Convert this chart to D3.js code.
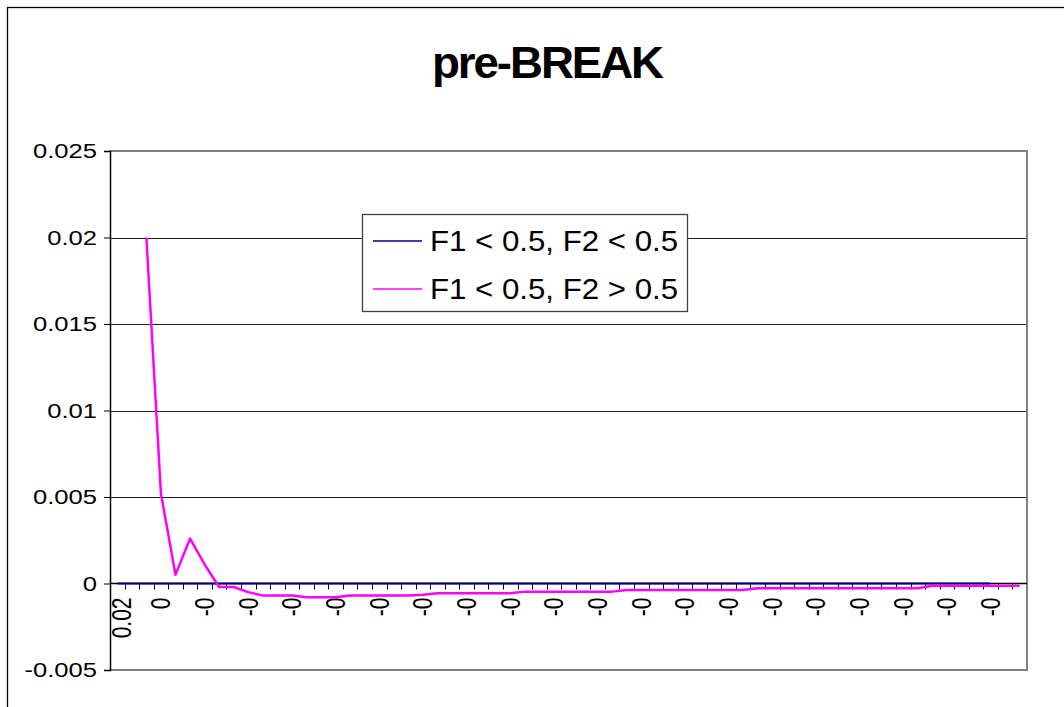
<!DOCTYPE html>
<html>
<head>
<meta charset="utf-8">
<script src="https://cdn.jsdelivr.net/npm/d3@7/dist/d3.min.js"></script>
<style>
  html, body { margin: 0; padding: 0; background: #fff; }
  svg { display: block; }
  text { font-family: "Liberation Sans", Arial, sans-serif; fill: #000; }
</style>
</head>
<body>
<svg id="chart" width="1064" height="707"></svg>
<script>
const title = "pre-BREAK";
const categories = [
  "0.02","0.01","0.01","0","0","0","-0","-0","-0","-0",
  "-0","-0","-0","-0","-0","-0","-0","-0","-0","-0",
  "-0","-0","-0","-0","-0","-0","-0","-0","-0","-0",
  "-0","-0","-0","-0","-0","-0","-0","-0","-0","-0",
  "-0","-0","-0","-0","-0","-0","-0","-0","-0","-0",
  "-0","-0","-0","-0","-0","-0","-0","-0","-0","-0",
  "-0","-0","-0"
];
const seriesNames = ["F1 < 0.5, F2 < 0.5", "F1 < 0.5, F2 > 0.5"];
const seriesBlue = [
  0,0,0,0,0,0,0,0,0,0,
  0,0,0,0,0,0,0,0,0,0,
  0,0,0,0,0,0,0,0,0,0,
  0,0,0,0,0,0,0,0,0,0,
  0,0,0,0,0,0,0,0,0,0,
  0,0,0,0,0,0,0,0,0,0,
  0,null,null
];
const seriesMagenta = [
  null, null, 0.02, 0.0052, 0.0005, 0.0026, 0.0011, -0.0002, -0.0002, -0.0005,
  -0.0007, -0.0007, -0.0007, -0.0008, -0.0008, -0.0008, -0.0007, -0.0007, -0.0007, -0.0007,
  -0.0007, -0.00065, -0.00057, -0.00057, -0.00057, -0.00057, -0.00057, -0.00057, -0.00047, -0.00047,
  -0.00047, -0.00047, -0.00047, -0.00047, -0.00047, -0.00038, -0.00038, -0.00038, -0.00038, -0.00038,
  -0.00038, -0.00038, -0.00038, -0.00038, -0.00028, -0.00028, -0.00028, -0.00028, -0.00028, -0.00028,
  -0.00028, -0.00028, -0.00028, -0.00028, -0.00028, -0.00028, -0.00013, -0.00013, -0.00013, -0.00013,
  -0.00013, -0.00013, -0.00013
];
const yTicks = [-0.005, 0, 0.005, 0.01, 0.015, 0.02, 0.025];
const yTickLabels = ["-0.005", "0", "0.005", "0.01", "0.015", "0.02", "0.025"];
const labelEvery = 3;
const colors = ["#000080", "#FF00FF"];

const svg = d3.select("#chart");
const plot = { left: 110, right: 1027, top: 151, bottom: 670 };
const sx = 1.28; // horizontal text stretch

const x = d3.scaleBand().domain(d3.range(categories.length)).range([plot.left, plot.right]).padding(0);
const xc = i => x(i) + x.bandwidth() / 2;
const y = d3.scaleLinear().domain([-0.005, 0.025]).range([plot.bottom, plot.top]);

// outer chart border
svg.append("rect").attr("x", 7.5).attr("y", 7.5).attr("width", 1200).attr("height", 900)
  .attr("fill", "none").attr("stroke", "#000").attr("stroke-width", 1.3);

// gridlines
svg.append("g").selectAll("line").data(yTicks.filter(v => v !== 0 && v !== -0.005 && v !== 0.025)).join("line")
  .attr("x1", plot.left).attr("x2", plot.right)
  .attr("y1", d => Math.round(y(d)) + 0.5).attr("y2", d => Math.round(y(d)) + 0.5)
  .attr("stroke", "#222").attr("stroke-width", 1);

// plot border (top, right, bottom)
svg.append("path")
  .attr("d", `M${plot.left},${y(0.025)}H${plot.right}V${y(-0.005)}H${plot.left}`)
  .attr("fill", "none").attr("stroke", "#808080").attr("stroke-width", 2);

// y axis
const yAxis = d3.axisLeft(y).tickValues(yTicks).tickSize(6).tickFormat(() => "");
const gy = svg.append("g").attr("transform", `translate(${plot.left},0)`).call(yAxis);
gy.select(".domain").attr("stroke", "#000").attr("stroke-width", 1.5);
gy.selectAll(".tick line").attr("stroke", "#000");
svg.append("g").selectAll("text").data(yTicks).join("text")
  .attr("transform", d => `translate(97,${y(d)}) scale(${sx},1)`)
  .attr("text-anchor", "end").attr("dy", "0.35em")
  .style("font-size", "20px")
  .text((d, i) => yTickLabels[i]);

// x axis at y = 0
const boundaries = d3.range(categories.length + 1).map(i => plot.left + i * x.bandwidth());
const xAxisY = y(0);
svg.append("line").attr("x1", plot.left).attr("x2", plot.right)
  .attr("y1", xAxisY).attr("y2", xAxisY).attr("stroke", "#000").attr("stroke-width", 1.5);
svg.append("g").selectAll("line").data(boundaries.slice(1, -1)).join("line")
  .attr("x1", d => Math.round(d) + 0.5).attr("x2", d => Math.round(d) + 0.5)
  .attr("y1", xAxisY).attr("y2", xAxisY + 6)
  .attr("stroke", "#000").attr("stroke-width", 1);

svg.append("g").selectAll("text")
  .data(categories.map((c, i) => ({ c, i })).filter(d => d.i % labelEvery === 0)).join("text")
  .attr("transform", d => `translate(${xc(d.i) + (d.i === 0 ? 4 : 0)},${xAxisY + 14}) scale(${sx},1) rotate(-90)`)
  .attr("text-anchor", "end").attr("dy", "0.35em")
  .style("font-size", "21px")
  .text(d => d.c);

// lines
const line = d3.line().defined(d => d.v !== null).x(d => xc(d.i)).y(d => y(d.v));
[seriesBlue, seriesMagenta].forEach((s, k) => {
  svg.append("path")
    .datum(s.map((v, i) => ({ v, i })))
    .attr("d", line)
    .attr("fill", "none")
    .attr("stroke", colors[k])
    .attr("stroke-width", k === 0 ? 2 : 2.5)
    .attr("stroke-linejoin", "round");
});

// legend
const lg = svg.append("g");
lg.append("rect").attr("x", 362.5).attr("y", 214.5).attr("width", 325).attr("height", 97)
  .attr("fill", "#fff").attr("stroke", "#404040").attr("stroke-width", 1.3);
seriesNames.forEach((n, k) => {
  const cy = 241 + k * 48;
  lg.append("line").attr("x1", 373).attr("x2", 422).attr("y1", cy).attr("y2", cy)
    .attr("stroke", colors[k]).attr("stroke-width", 1.6);
  lg.append("text").attr("x", 430).attr("y", cy + 10)
    .attr("textLength", 248).attr("lengthAdjust", "spacingAndGlyphs")
    .style("font-size", "29px").text(n);
});

// title
svg.append("text").attr("x", 432).attr("y", 78)
  .attr("textLength", 230).attr("lengthAdjust", "spacingAndGlyphs")
  .style("font-size", "44px").style("font-weight", "bold")
  .style("letter-spacing", "-2px")
  .text(title);
</script>
</body>
</html>
